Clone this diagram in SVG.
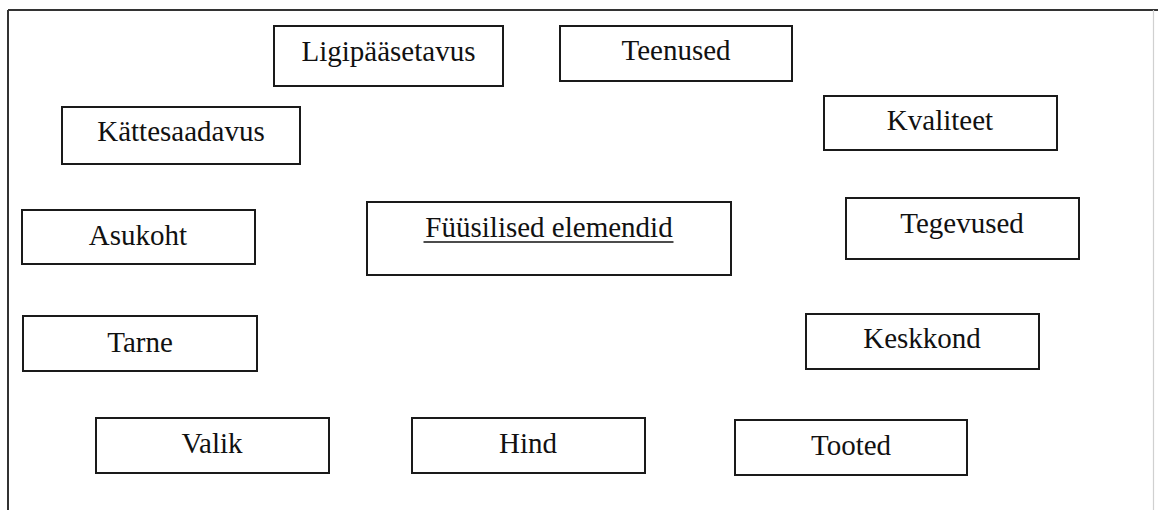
<svg xmlns="http://www.w3.org/2000/svg" width="1158" height="510" viewBox="0 0 1158 510">
  <style>
    .box { fill: #ffffff; stroke: #1a1a1a; stroke-width: 2; }
    .lbl { font-family: "Liberation Serif", "Times New Roman", serif; font-size: 29px; fill: #111; text-anchor: middle; }
    .frame { stroke: #333; stroke-width: 2; fill: none; }
  </style>
  <rect x="0" y="0" width="1158" height="510" fill="#ffffff"/>
  <g id="frame">
    <line class="frame" x1="8" y1="10" x2="1158" y2="10"/>
    <line class="frame" x1="8" y1="10" x2="8" y2="510"/>
    <line x1="1153.5" y1="10" x2="1153.5" y2="510" stroke="#d0d0d0" stroke-width="1.2"/>
  </g>
  <g id="connectors"></g>
  <g id="ligipaasetavus">
    <rect class="box" x="274" y="26" width="229" height="60"/>
    <text class="lbl" x="388.5" y="61">Ligipääsetavus</text>
  </g>
  <g id="teenused">
    <rect class="box" x="560" y="26" width="232" height="55"/>
    <text class="lbl" x="676" y="60">Teenused</text>
  </g>
  <g id="kattesaadavus">
    <rect class="box" x="62" y="107" width="238" height="57"/>
    <text class="lbl" x="181" y="141">Kättesaadavus</text>
  </g>
  <g id="kvaliteet">
    <rect class="box" x="824" y="96" width="233" height="54"/>
    <text class="lbl" x="940" y="130">Kvaliteet</text>
  </g>
  <g id="asukoht">
    <rect class="box" x="22" y="210" width="233" height="54"/>
    <text class="lbl" x="138" y="245">Asukoht</text>
  </g>
  <g id="fuusilised">
    <rect class="box" x="367" y="202" width="364" height="73"/>
    <text class="lbl" x="549" y="237">Füüsilised elemendid</text>
    <line x1="423.5" y1="242" x2="673.5" y2="242" stroke="#111" stroke-width="1.3"/>
  </g>
  <g id="tegevused">
    <rect class="box" x="846" y="198" width="233" height="61"/>
    <text class="lbl" x="962" y="233">Tegevused</text>
  </g>
  <g id="tarne">
    <rect class="box" x="23" y="316" width="234" height="55"/>
    <text class="lbl" x="140" y="352">Tarne</text>
  </g>
  <g id="keskkond">
    <rect class="box" x="806" y="314" width="233" height="55"/>
    <text class="lbl" x="922" y="348">Keskkond</text>
  </g>
  <g id="valik">
    <rect class="box" x="96" y="418" width="233" height="55"/>
    <text class="lbl" x="212" y="453">Valik</text>
  </g>
  <g id="hind">
    <rect class="box" x="412" y="418" width="233" height="55"/>
    <text class="lbl" x="528" y="453">Hind</text>
  </g>
  <g id="tooted">
    <rect class="box" x="735" y="420" width="232" height="55"/>
    <text class="lbl" x="851" y="455">Tooted</text>
  </g>
</svg>
